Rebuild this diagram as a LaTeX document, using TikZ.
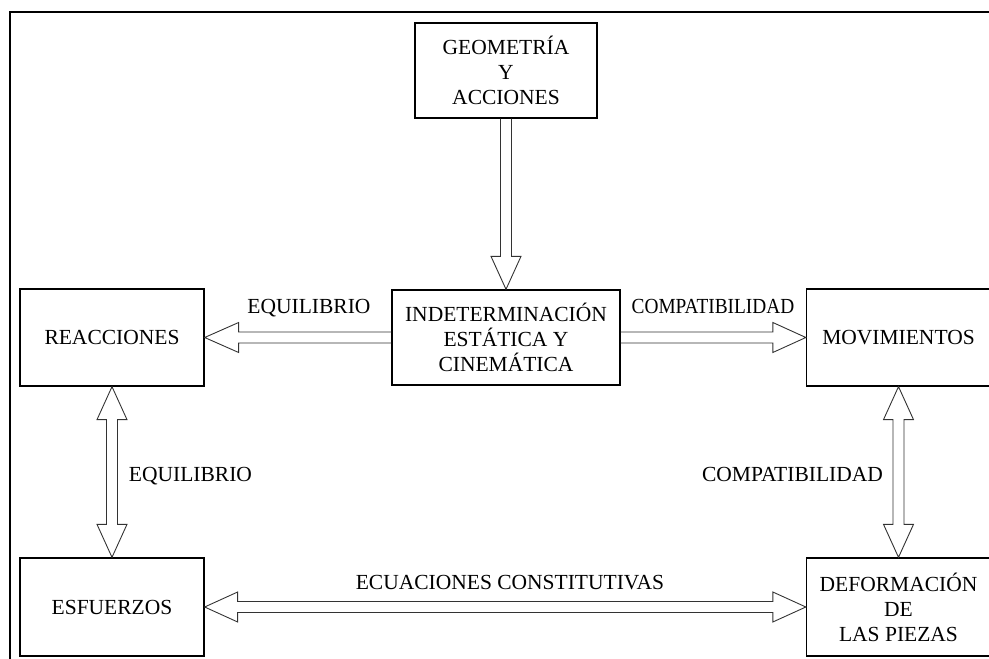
\documentclass[tikz,border=0pt]{standalone}
\usepackage{fontspec}
\setmainfont{Liberation Serif}
\usepackage{graphicx}
\usetikzlibrary{calc}
\begin{document}
\begin{tikzpicture}[x=1pt,y=1pt,
  box/.style={draw=black, line width=1.3pt, inner sep=0pt, align=center,
    font=\fontsize{21.5}{25}\selectfont},
  lbl/.style={inner sep=0pt, anchor=base, font=\fontsize{21.5}{25}\selectfont},
  harrow/.style={draw=black!80, line width=0.9pt, line join=miter}]
\useasboundingbox (0,0) rectangle (989,659);
% frame
\draw[line width=2pt] (10,0) -- (10,647) -- (989,647);
% boxes
\node[box, minimum width=182pt, minimum height=95pt] (geo) at (506,588.5) {GEOMETRÍA\\Y\\ACCIONES};
\node[box, minimum width=228pt, minimum height=95pt] (ind) at (506,321.5) {INDETERMINACIÓN\\ESTÁTICA Y\\CINEMÁTICA};
\node[box, minimum width=184pt, minimum height=97pt] (reac) at (112,321.5) {REACCIONES};
\node[box, minimum width=184pt, minimum height=97pt] (mov) at (898.5,321.5) {MOVIMIENTOS};
\node[box, minimum width=184pt, minimum height=98pt] (esf) at (112,52) {ESFUERZOS};
\node[box, minimum width=184pt, minimum height=98pt] (def) at (898.5,52) {DEFORMACIÓN\\DE\\LAS PIEZAS};
% arrows
\draw[harrow] ($(geo.south)+(-5.5,0)$) -- ($(ind.north)+(-5.5,33)$) -- ++(-9.5,0) -- (ind.north)
  -- ($(ind.north)+(15,33)$) -- ++(-9.5,0) -- ($(geo.south)+(5.5,0)$);
\draw[harrow] ($(ind.west)+(0,5.5)$) -- ($(reac.east)+(34,5.5)$) -- ++(0,9.5) -- (reac.east)
  -- ($(reac.east)+(34,-15)$) -- ++(0,9.5) -- ($(ind.west)+(0,-5.5)$);
\draw[harrow] ($(ind.east)+(0,5.5)$) -- ($(mov.west)+(-33,5.5)$) -- ++(0,9.5) -- (mov.west)
  -- ($(mov.west)+(-33,-15)$) -- ++(0,9.5) -- ($(ind.east)+(0,-5.5)$);
\draw[harrow] ($(reac.south)+(-5.5,-33)$) -- ++(-9.5,0) -- (reac.south) -- ($(reac.south)+(15,-33)$)
  -- ++(-9.5,0) -- ($(esf.north)+(5.5,33)$) -- ++(9.5,0) -- (esf.north) -- ($(esf.north)+(-15,33)$)
  -- ++(9.5,0) -- cycle;
\draw[harrow] ($(mov.south)+(-5.5,-33)$) -- ++(-9.5,0) -- (mov.south) -- ($(mov.south)+(15,-33)$)
  -- ++(-9.5,0) -- ($(def.north)+(5.5,33)$) -- ++(9.5,0) -- (def.north) -- ($(def.north)+(-15,33)$)
  -- ++(9.5,0) -- cycle;
\draw[harrow] ($(esf.east)+(33,5.5)$) -- ++(0,9.5) -- (esf.east) -- ($(esf.east)+(33,-15)$)
  -- ++(0,9.5) -- ($(def.west)+(-33,-5.5)$) -- ++(0,-9.5) -- (def.west) -- ($(def.west)+(-33,15)$)
  -- ++(0,-9.5) -- cycle;
% labels
\node[lbl] (l1) at (309,345) {EQUILIBRIO};
\node[lbl] (l2) at (713,345) {\scalebox{0.9}[1]{COMPATIBILIDAD}};
\node[lbl] (l3) at (190.5,177) {EQUILIBRIO};
\node[lbl] (l4) at (792.5,177) {COMPATIBILIDAD};
\node[lbl] (l5) at (510,69) {ECUACIONES CONSTITUTIVAS};
\end{tikzpicture}
\end{document}
